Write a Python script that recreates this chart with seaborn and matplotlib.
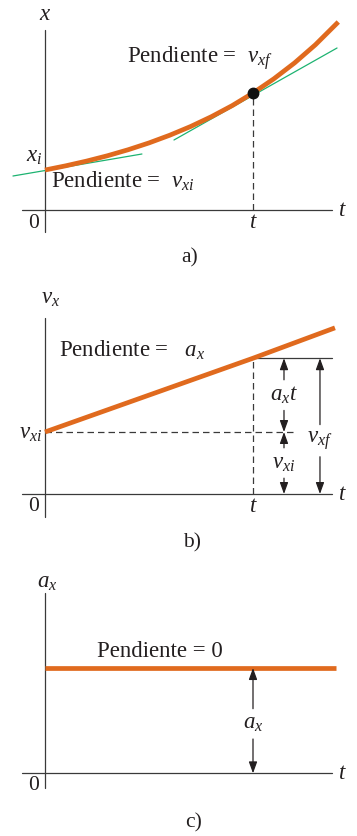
import numpy as np
import pandas as pd
import seaborn as sns
import matplotlib
matplotlib.use('Agg')
import matplotlib.pyplot as plt

sns.set_style('white')
plt.rcParams['font.family'] = ['Liberation Serif', 'DejaVu Serif']
plt.rcParams['mathtext.fontset'] = 'custom'
plt.rcParams['mathtext.rm'] = 'Liberation Serif'
plt.rcParams['mathtext.it'] = 'Liberation Serif:italic'

# a) position vs time (values read off the picture)
t_pos = [0.0, 0.1, 0.2, 0.3, 0.4, 0.5, 0.6, 0.7, 0.8, 0.9, 1.0, 1.1, 1.2, 1.3, 1.41]
x_pos = [1.0, 1.105, 1.223, 1.356, 1.507, 1.677, 1.87, 2.087, 2.333, 2.61, 2.925, 3.279, 3.678, 4.131, 4.70]
tan_i_t = [-0.154, 0.466]
tan_i_x = [0.85, 1.40]
tan_f_t = [0.62, 1.404]
tan_f_x = [1.75, 4.05]

# b) velocity vs time
t_vel = [0.0, 1.0, 1.394]
v_vel = [1.0, 2.19, 2.68]
v_xi = 1.0
v_xf = 2.19

# c) acceleration vs time
t_acc = [0.0, 1.0, 1.399]
a_acc = [1.0, 1.0, 1.0]

t_mark = 1.0

ORANGE = '#E06A1E'
GREEN = '#1DB371'
INK = '#231F20'
AXC = '#3a3a3a'
FS = 16.5
FS_SMALL = 15.5

W, H = 357, 836
fig = plt.figure(figsize=(W / 100, H / 100), dpi=100)


def panel(top, bottom, ylim):
    ax = fig.add_axes([0, 1 - bottom / H, 1, (bottom - top) / H])
    ax.set_xlim(-45 / 208, 312 / 208)
    ax.set_ylim(*ylim)
    ax.axis('off')
    return ax


def axes_lines(ax, ytop, ybot):
    ax.plot([-0.111, 1.38], [0, 0], color=AXC, lw=0.9)
    ax.plot([0, 0], [ybot, ytop], color=AXC, lw=0.9)


dash = (0, (5.2, 3.2))
arrow = dict(arrowstyle='-|>,head_length=0.55,head_width=0.2', mutation_scale=12.5,
             color=INK, lw=0.9, shrinkB=0, shrinkA=1)


def double_arrow(ax, t, lo, hi, label, ymid):
    ax.annotate(label, xy=(t, hi), xytext=(t, ymid), ha='center', va='center',
                fontsize=FS, color=INK, arrowprops=arrow)
    ax.annotate(label, xy=(t, lo), xytext=(t, ymid), ha='center', va='center',
                fontsize=FS, color='none', arrowprops=arrow)


# ---- a)
ax = panel(0, 270, (-1.5, 5.25))
axes_lines(ax, 4.5, -0.55)
sns.lineplot(x=tan_i_t, y=tan_i_x, ax=ax, color=GREEN, linewidth=0.9, zorder=2)
sns.lineplot(x=tan_f_t, y=tan_f_x, ax=ax, color=GREEN, linewidth=0.9, zorder=2)
sns.lineplot(x=t_pos, y=x_pos, ax=ax, color=ORANGE, linewidth=3.4, zorder=3,
             solid_capstyle='butt')
x_at_t = x_pos[t_pos.index(t_mark)]
ax.plot([t_mark, t_mark], [0, x_at_t], color=AXC, lw=0.9, linestyle=dash)
ax.plot([t_mark], [x_at_t], 'o', color='#111111', markersize=7.5, zorder=4)
ax.text(0, 4.875, '$x$', fontsize=FS, ha='center', va='center', color=INK)
ax.text(1.428, 0, '$t$', fontsize=FS, ha='center', va='center', color=INK)
ax.text(-0.053, -0.33, '0', fontsize=FS_SMALL, ha='center', va='center', color=INK)
ax.text(t_mark, -0.3, '$t$', fontsize=FS, ha='center', va='center', color=INK)
ax.text(-0.014, 1.33, '$x_i$', fontsize=FS, ha='right', va='center', color=INK)
ax.text(0.394, 3.675, 'Pendiente =  $v_{xf}$', fontsize=FS, va='baseline', color=INK)
ax.text(0.029, 0.55, 'Pendiente =  $v_{xi}$', fontsize=FS, va='baseline', color=INK)
ax.text(0.697, -1.2, 'a)', fontsize=FS_SMALL, ha='center', va='center', color=INK)

# ---- b)
ax = panel(270, 556, (-1.0, 3.613))
axes_lines(ax, 2.84, -0.371)
sns.lineplot(x=t_vel, y=v_vel, ax=ax, color=ORANGE, linewidth=3.4, zorder=3,
             solid_capstyle='butt')
ax.plot([0, 1.21], [v_xi, v_xi], color=AXC, lw=0.9, linestyle=dash)
ax.plot([t_mark, t_mark], [0, v_xf], color=AXC, lw=0.9, linestyle=dash)
ax.plot([t_mark, 1.38], [v_xf, v_xf], color=AXC, lw=0.9)
double_arrow(ax, 1.149, v_xi, v_xf, '$a_x t$', (v_xi + v_xf) / 2)
double_arrow(ax, 1.149, 0, v_xi, '$v_{xi}$', v_xi / 2)
double_arrow(ax, 1.322, 0, v_xf, '$v_{xf}$', 0.86)
ax.text(-0.02, 3.16, '$v_x$', fontsize=FS, ha='left', va='center', color=INK)
ax.text(1.428, 0, '$t$', fontsize=FS, ha='center', va='center', color=INK)
ax.text(-0.053, -0.2, '0', fontsize=FS_SMALL, ha='center', va='center', color=INK)
ax.text(t_mark, -0.2, '$t$', fontsize=FS, ha='center', va='center', color=INK)
ax.text(-0.014, 0.9, '$v_{xi}$', fontsize=FS, ha='right', va='baseline', color=INK)
ax.text(0.067, 2.21, 'Pendiente =   $a_x$', fontsize=FS, va='baseline', color=INK)
ax.text(0.707, -0.79, 'b)', fontsize=FS_SMALL, ha='center', va='center', color=INK)

# ---- c)
ax = panel(556, 836, (-0.595, 2.064))
axes_lines(ax, 1.712, -0.139)
sns.lineplot(x=t_acc, y=a_acc, ax=ax, color=ORANGE, linewidth=3.4, zorder=3,
             solid_capstyle='butt')
double_arrow(ax, t_mark, 0, a_acc[0], '$a_x$', 0.47)
ax.text(-0.038, 1.817, '$a_x$', fontsize=FS, ha='left', va='center', color=INK)
ax.text(1.428, 0, '$t$', fontsize=FS, ha='center', va='center', color=INK)
ax.text(-0.053, -0.12, '0', fontsize=FS_SMALL, ha='center', va='center', color=INK)
ax.text(0.25, 1.105, 'Pendiente = 0', fontsize=FS, va='baseline', color=INK)
ax.text(0.712, -0.47, 'c)', fontsize=FS_SMALL, ha='center', va='center', color=INK)

fig.savefig('out.png', dpi=100)
